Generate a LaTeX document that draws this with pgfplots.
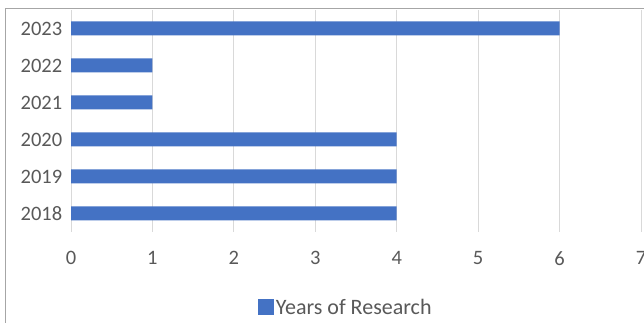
\documentclass[border=0pt]{standalone}
\usepackage{pgfplots}
\pgfplotsset{compat=1.18}
\usepackage{fontspec}
\setmainfont{Carlito}
\definecolor{barblue}{HTML}{4472C4}
\definecolor{gridgray}{HTML}{D9D9D9}
\definecolor{textgray}{HTML}{595959}
\begin{document}
\begin{tikzpicture}
\useasboundingbox (0pt,0pt) rectangle (644pt,323pt);
\draw[color=gray!70, line width=1.5pt] (5.5pt,0pt) -- (5.5pt,314.5pt) -- (644pt,314.5pt);
\begin{axis}[
  at={(71pt,91pt)}, anchor=south west,
  scale only axis, width=570pt, height=222pt,
  xbar, bar width=14pt,
  xmin=0, xmax=7,
  ymin=-0.5, ymax=5.5,
  ytick={0,1,2,3,4,5},
  yticklabels={2018,2019,2020,2021,2022,2023},
  xtick={0,1,2,3,4,5,6,7},
  xmajorgrids, grid style={gridgray, line width=1pt},
  axis line style={draw=none},
  major tick style={draw=none},
  tick label style={font=\fontsize{20.5}{24}\selectfont, text=textgray},
  /pgf/number format/assume math mode=true,
  xticklabel style={yshift=-16pt},
  yticklabel style={xshift=-1pt},
  legend style={at={(axis description cs:0.482,-0.342)}, anchor=center, draw=none,
    font=\fontsize{22}{26}\selectfont, text=textgray,
    /tikz/every even column/.append style={column sep=0pt}},
  legend image code/.code={\fill[barblue] (0pt,-7pt) rectangle (16pt,9pt);},
]
\addplot[fill=barblue, draw=none] coordinates {(4,0) (4,1) (4,2) (1,3) (1,4) (6,5)};
\legend{Years of Research}
\end{axis}
\end{tikzpicture}
\end{document}
